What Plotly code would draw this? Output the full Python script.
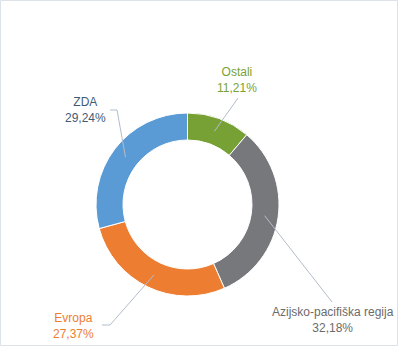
import math
import plotly.graph_objects as go

# Share by region, clockwise from 12 o'clock
regions = ["Ostali", "Azijsko-pacifiška regija", "Evropa", "ZDA"]
shares = [11.21, 32.18, 27.37, 29.24]
slice_colors = ["#77a135", "#77787c", "#ed7d31", "#5b9bd5"]
label_colors = ["#7aa232", "#6b6b6b", "#ed7d31", "#3f5b76"]

W, H = 399, 347
CX, CY = 187.5, 204.5        # donut centre, pixels from top-left
R_OUT, R_IN = 91.5, 64.5     # outer / inner radius in pixels

# Where each label block sits (pixel centre of the two-line text) and
# the bend points of its leader line, listed from the label side.
label_layout = {
    "Ostali": dict(x=237, y=80, path=[(238, 98)]),
    "Azijsko-pacifiška regija": dict(x=333, y=320, path=[(332, 302)]),
    "Evropa": dict(x=73, y=326, path=[(102, 325), (110, 325)]),
    "ZDA": dict(x=85, y=110, path=[(110, 110), (117, 110)]),
}


def px(x):
    return x / W


def py(y):
    return 1 - y / H


def fmt(v):
    return f"{v:.2f}".replace(".", ",") + "%"


fig = go.Figure(
    go.Pie(
        labels=regions,
        values=shares,
        hole=R_IN / R_OUT,
        sort=False,
        direction="clockwise",
        rotation=0,
        marker=dict(colors=slice_colors, line=dict(color="#ffffff", width=1)),
        textinfo="none",
        hoverinfo="label+percent",
        showlegend=False,
        domain=dict(
            x=[px(CX - R_OUT), px(CX + R_OUT)],
            y=[py(CY + R_OUT), py(CY - R_OUT)],
        ),
    )
)

annotations = []
shapes = []
total = sum(shares)
acc = 0.0
r_mid = (R_OUT + R_IN) / 2
for name, val, col in zip(regions, shares, label_colors):
    mid = (acc + val / 2) / total * 2 * math.pi
    acc += val
    sx = CX + r_mid * math.sin(mid)
    sy = CY - r_mid * math.cos(mid)
    lay = label_layout[name]
    pts = lay["path"] + [(sx, sy)]
    for (x0, y0), (x1, y1) in zip(pts[:-1], pts[1:]):
        shapes.append(dict(type="line", xref="paper", yref="paper",
                           x0=px(x0), y0=py(y0), x1=px(x1), y1=py(y1),
                           line=dict(color="#b4bccb", width=1)))
    annotations.append(dict(
        text=f"{name}<br>{fmt(val)}", x=px(lay["x"]), y=py(lay["y"]),
        xref="paper", yref="paper", xanchor="center", yanchor="middle",
        align="center", showarrow=False,
        font=dict(family="Liberation Sans, Arial, sans-serif", size=12, color=col),
    ))

# thin frame around the whole chart
shapes.append(dict(type="rect", xref="paper", yref="paper",
                   x0=px(0.5), y0=py(345.5), x1=px(397.5), y1=py(0.5),
                   line=dict(color="#dde2e8", width=1)))

fig.update_layout(
    width=W, height=H,
    margin=dict(l=0, r=0, t=0, b=0),
    paper_bgcolor="#ffffff",
    plot_bgcolor="#ffffff",
    annotations=annotations,
    shapes=shapes,
)

fig.write_html("out.html")
